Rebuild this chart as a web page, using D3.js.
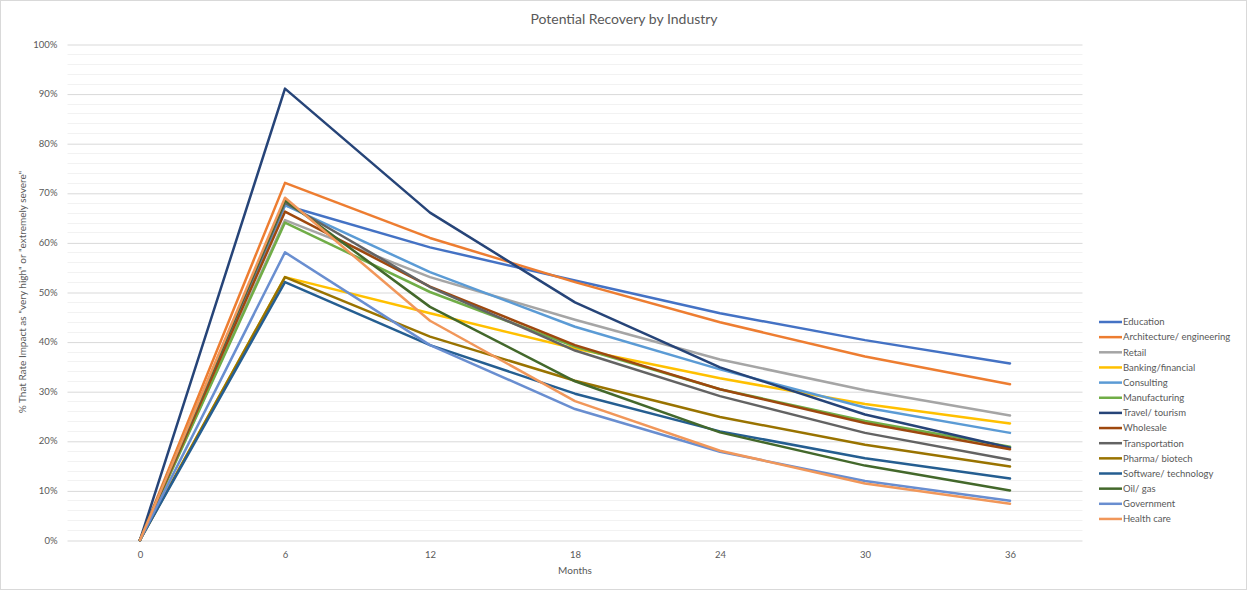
<!DOCTYPE html>
<html>
<head>
<meta charset="utf-8">
<script src="https://cdn.jsdelivr.net/npm/d3@7"></script>
<style>
  html, body { margin: 0; padding: 0; background: #fff; }
  svg { display: block; font-family: "Lato", "Open Sans", "Liberation Sans", sans-serif; }
</style>
</head>
<body>
<svg id="chart" width="1247" height="590"></svg>
<script>
// Months since onset (category axis)
const months = ["0", "6", "12", "18", "24", "30", "36"];

// Share of respondents rating the impact "very high" or "extremely severe" (%)
const education      = [0, 67.5, 59.0, 52.3, 45.7, 40.3, 35.6];
const architecture   = [0, 72.0, 60.9, 52.0, 43.9, 37.0, 31.4];
const retail         = [0, 64.5, 53.0, 44.4, 36.4, 30.2, 25.1];
const banking        = [0, 53.0, 45.7, 38.6, 32.6, 27.4, 23.5];
const consulting     = [0, 67.5, 54.0, 43.0, 34.4, 26.7, 21.6];
const manufacturing  = [0, 64.0, 50.0, 39.0, 30.4, 24.0, 18.8];
const travel         = [0, 91.0, 66.0, 47.9, 34.8, 25.3, 18.6];
const wholesale      = [0, 66.2, 51.1, 39.3, 30.4, 23.6, 18.3];
const transportation = [0, 68.0, 51.0, 38.2, 29.0, 21.6, 16.2];
const pharma         = [0, 53.0, 41.0, 32.1, 24.8, 19.2, 14.8];
const software       = [0, 52.0, 39.3, 29.5, 21.9, 16.5, 12.4];
const oilGas         = [0, 68.5, 47.0, 32.0, 21.7, 15.0, 10.0];
const government     = [0, 58.0, 39.3, 26.4, 17.8, 11.9, 7.9];
const healthCare     = [0, 69.0, 44.2, 28.0, 18.0, 11.4, 7.3];

const seriesNames = [
  "Education", "Architecture/ engineering", "Retail", "Banking/financial",
  "Consulting", "Manufacturing", "Travel/ tourism", "Wholesale",
  "Transportation", "Pharma/ biotech", "Software/ technology", "Oil/ gas",
  "Government", "Health care"
];
const seriesValues = [
  education, architecture, retail, banking, consulting, manufacturing, travel,
  wholesale, transportation, pharma, software, oilGas, government, healthCare
];
const seriesColors = [
  "#4472C4", "#ED7D31", "#A5A5A5", "#FFC000", "#5B9BD5", "#70AD47", "#264478",
  "#9E480E", "#636363", "#997300", "#255E91", "#43682B", "#698ED0", "#F1975A"
];

const yTicks = [0, 10, 20, 30, 40, 50, 60, 70, 80, 90, 100];

const series = seriesNames.map((name, i) => ({
  name, color: seriesColors[i],
  values: seriesValues[i].map((v, j) => ({ month: months[j], value: v }))
}));

const svg = d3.select("#chart");
const W = 1247, H = 590;
const plot = { left: 67.5, right: 1082.5, top: 44, bottom: 540 };

// chart area border
svg.append("rect")
  .attr("x", 0.5).attr("y", 0.5).attr("width", W - 1).attr("height", H - 1)
  .attr("fill", "#fff").attr("stroke", "#D9D9D9");

const x = d3.scalePoint().domain(months).range([plot.left, plot.right]).padding(0.5);
const y = d3.scaleLinear().domain([0, 100]).range([plot.bottom, plot.top]);

// minor gridlines every 2%
const minor = d3.range(0, 101, 2).filter(v => v % 10 !== 0);
svg.append("g").selectAll("line").data(minor).join("line")
  .attr("x1", plot.left).attr("x2", plot.right)
  .attr("y1", d => Math.round(y(d)) + 0.5).attr("y2", d => Math.round(y(d)) + 0.5)
  .attr("stroke", "#F2F2F2").attr("stroke-width", 1);

// major gridlines and y labels through a D3 axis
const yAxis = d3.axisLeft(y).tickValues(yTicks)
  .tickSize(-(plot.right - plot.left)).tickPadding(10)
  .tickFormat(d => d + "%");
const gy = svg.append("g")
  .attr("transform", `translate(${plot.left},0)`)
  .call(yAxis);
gy.select(".domain").remove();
gy.selectAll(".tick line").attr("stroke", "#D9D9D9").attr("stroke-width", 1)
  .attr("transform", "translate(0,0.5)");
gy.selectAll(".tick text").attr("fill", "#595959").attr("font-size", 9.5)
  .attr("font-family", "Lato, 'Open Sans', sans-serif");

// category axis labels
const xAxis = d3.axisBottom(x).tickSize(0).tickPadding(11);
const gx = svg.append("g")
  .attr("transform", `translate(0,${plot.bottom})`)
  .call(xAxis);
gx.select(".domain").remove();
gx.selectAll(".tick text").attr("fill", "#595959").attr("font-size", 9.5)
  .attr("font-family", "Lato, 'Open Sans', sans-serif");

// series lines
const line = d3.line().x(d => x(d.month)).y(d => y(d.value));
svg.append("g").selectAll("path").data(series).join("path")
  .attr("d", d => line(d.values))
  .attr("fill", "none")
  .attr("stroke", d => d.color)
  .attr("stroke-width", 2.5)
  .attr("stroke-linejoin", "round")
  .attr("stroke-linecap", "round");

// title
svg.append("text")
  .attr("x", 624).attr("y", 24).attr("text-anchor", "middle")
  .attr("fill", "#595959").attr("font-size", 14)
  .text("Potential Recovery by Industry");

// axis titles
svg.append("text")
  .attr("transform", "translate(26,292) rotate(-90)")
  .attr("text-anchor", "middle").attr("fill", "#595959").attr("font-size", 10)
  .text("% That Rate Impact as \"very high\" or \"extremely severe\"");

svg.append("text")
  .attr("x", 575).attr("y", 574).attr("text-anchor", "middle")
  .attr("fill", "#595959").attr("font-size", 10)
  .text("Months");

// legend
const legend = svg.append("g").attr("transform", "translate(1099,322)");
const rows = legend.selectAll("g").data(series).join("g")
  .attr("transform", (d, i) => `translate(0,${i * 15.15})`);
rows.append("line")
  .attr("x1", 0).attr("x2", 23).attr("y1", 0).attr("y2", 0)
  .attr("stroke", d => d.color).attr("stroke-width", 2.5);
rows.append("text")
  .attr("x", 24).attr("y", 0).attr("dy", "0.35em")
  .attr("fill", "#595959").attr("font-size", 9.5)
  .text(d => d.name);
</script>
</body>
</html>
